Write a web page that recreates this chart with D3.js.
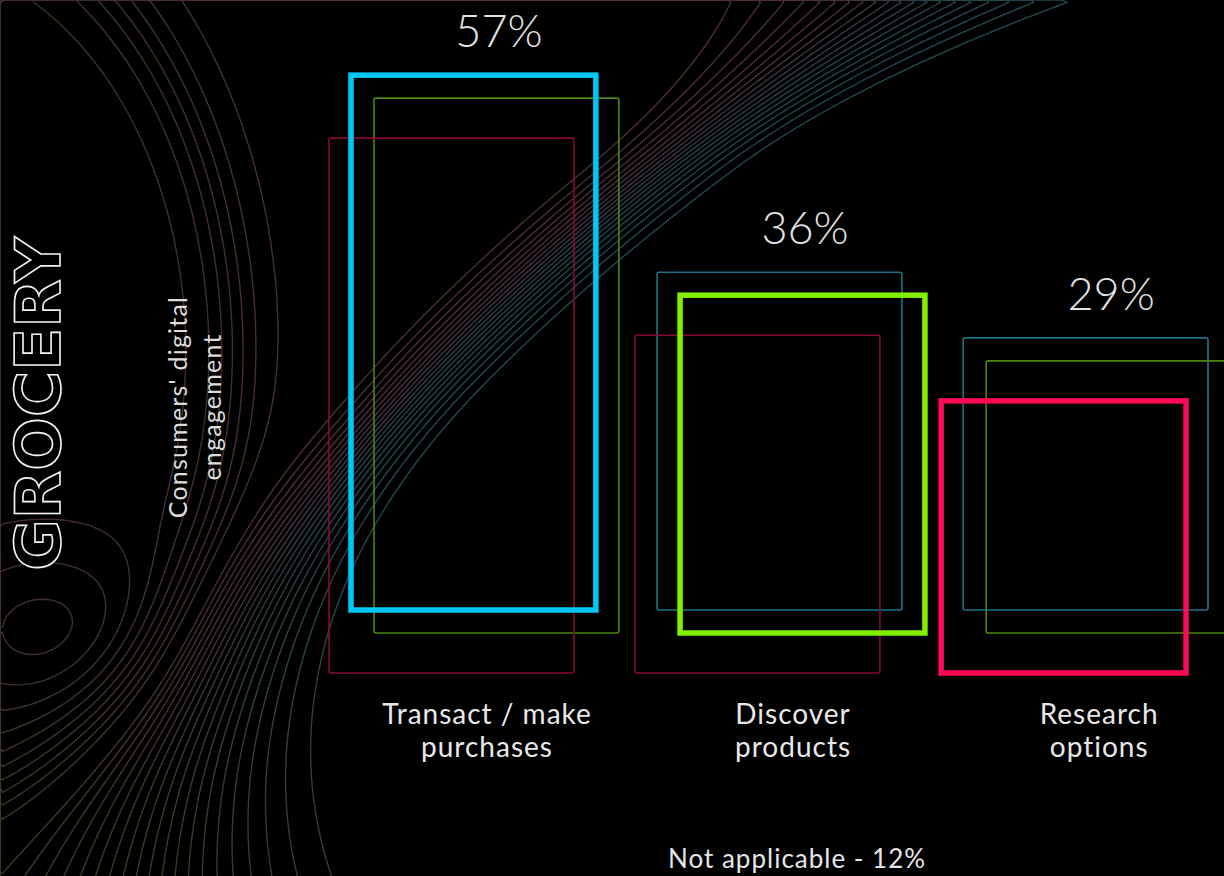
<!DOCTYPE html>
<html>
<head>
<meta charset="utf-8">
<script src="https://cdn.jsdelivr.net/npm/d3@7"></script>
<style>
  html, body { margin: 0; padding: 0; background: #000; }
  svg { display: block; }
</style>
</head>
<body>
<svg id="chart" width="1224" height="876"></svg>
<script>
// ---- chart data ----
const categories = ["Transact / make purchases", "Discover products", "Research options"];
const categoryLines = [["Transact / make", "purchases"], ["Discover", "products"], ["Research", "options"]];
const values = [57, 36, 29];
const valueLabels = ["57%", "36%", "29%"];
const sectorTitle = "GROCERY";
const axisTitleLines = ["Consumers' digital", "engagement"];
const footNote = "Not applicable - 12%";

// ---- styling / layout ----
const W = 1224, H = 876;
const bodyFont = "Lato, 'Open Sans', 'DejaVu Sans', sans-serif";
// three stacked outline frames per category; the frame whose index matches the category is emphasised
const frameLayers = [
  { bold: "#00c8f6", faint: "#1b7388", dx: 0,   base: 610 },
  { bold: "#80f000", faint: "#4b8612", dx: 23,  base: 633 },
  { bold: "#ff0a57", faint: "#870a36", dx: -22, base: 673 }
];

const svg = d3.select("#chart");
svg.append("rect").attr("width", W).attr("height", H).attr("fill", "#000");
const defs = svg.append("defs");

// ---- decorative terrain contours in the background ----
const cell = 5;
const nx = Math.ceil(W / cell) + 1, ny = Math.ceil(H / cell) + 1;
function terrain(x, y) {
  // escarpment running from the lower left to the upper right along a bent spine
  const xc = 890 - 1.545 * y + 0.0008 * y * y;
  const slope = -1.545 + 0.0016 * y;
  const d = (x - xc) / Math.sqrt(1 + slope * slope);
  const top = Math.max(0, (170 - y) / 170), bot = Math.max(0, (y - 380) / 496);
  const w = 40 + 40 * top * top + 110 * bot * bot;
  const cliff = 14 * (1 - Math.tanh(d / w)) / 2;
  // plateau rim off the left edge
  const r = Math.hypot((x + 100) / 330, (y - 350) / 460);
  const rim = 5.6 * (1 - Math.tanh((r - 1) / 0.11)) / 2;
  // small knoll low on the left
  const kx = (x - 45) / 80, ky = (y - 630) / 60;
  const knoll = 2.4 * Math.exp(-(kx * kx + ky * ky) / 2);
  return cliff + rim + knoll;
}
const grid = new Array(nx * ny);
for (let j = 0; j < ny; j++) for (let i = 0; i < nx; i++) grid[j * nx + i] = terrain(i * cell, j * cell);
const levels = d3.range(1.2, 12.9, 0.6).concat(d3.range(14.4, 22, 0.8));
const contours = d3.contours().size([nx, ny]).thresholds(levels)(grid);

// ink per contour level, turning olive towards the bottom of the page
const levelInk = d3.scaleLinear()
  .domain([0, 5, 10, 14, 22])
  .range(["#1b4a50", "#26444b", "#502c3b", "#46302f", "#402b2d"]);
contours.forEach((c, i) => {
  const gr = defs.append("linearGradient").attr("id", "ink" + i)
    .attr("gradientUnits", "userSpaceOnUse")
    .attr("x1", 0).attr("y1", 520).attr("x2", 0).attr("y2", 876);
  gr.append("stop").attr("offset", 0).attr("stop-color", levelInk(c.value));
  gr.append("stop").attr("offset", 1).attr("stop-color", "#3b3a25");
});

const contourPath = d3.geoPath(d3.geoIdentity().scale(cell));
svg.append("g").attr("class", "terrain")
  .selectAll("path").data(contours).join("path")
  .attr("d", contourPath)
  .attr("fill", "none")
  .attr("stroke", (c, i) => `url(#ink${i})`)
  .attr("stroke-width", 1.4);

// ---- scales ----
const x = d3.scaleBand().domain(categories).range([351, 1208]).paddingInner(0.2).paddingOuter(0);
const h = d3.scaleLinear().domain([0, 60]).range([0, 563]);

// ---- frames ----
const groups = svg.append("g").selectAll("g").data(categories).join("g");
groups.each(function (cat, ci) {
  const g = d3.select(this);
  const order = frameLayers.map((l, li) => li).sort((a, b) => (a === ci) - (b === ci));
  order.forEach(li => {
    const L = frameLayers[li];
    const isBold = li === ci;
    g.append("rect")
      .attr("x", x(cat) + L.dx)
      .attr("y", L.base - h(values[ci]))
      .attr("width", x.bandwidth())
      .attr("height", h(values[ci]))
      .attr("rx", isBold ? 0 : 2)
      .attr("fill", "none")
      .attr("stroke", isBold ? L.bold : L.faint)
      .attr("stroke-width", isBold ? 5.5 : 1.6);
  });
  // value label above the top-most frame
  const topY = d3.min(frameLayers, L => L.base - h(values[ci]));
  g.append("text")
    .attr("x", x(cat) + 148)
    .attr("y", topY - 28)
    .attr("text-anchor", "middle")
    .style("font-family", bodyFont)
    .style("font-weight", 300)
    .style("font-size", "45px")
    .attr("fill", "#e2e2e2")
    .text(valueLabels[ci]);
  // category label beneath
  const t = g.append("text")
    .attr("x", x(cat) + 136)
    .attr("y", 724)
    .attr("text-anchor", "middle")
    .style("font-family", bodyFont)
    .style("font-size", "28px")
    .style("letter-spacing", "1px")
    .attr("fill", "#e8e8e8");
  categoryLines[ci].forEach((line, k) => {
    t.append("tspan").attr("x", x(cat) + 136).attr("dy", k === 0 ? 0 : 33).text(line);
  });
});

// ---- vertical titles ----
svg.append("text")
  .attr("transform", "translate(60,404) rotate(-90)")
  .attr("text-anchor", "middle")
  .style("font-family", "'DejaVu Sans', sans-serif")
  .style("font-weight", "bold")
  .style("font-size", "63px")
  .attr("fill", "#000")
  .attr("stroke", "#f2f2f2")
  .attr("stroke-width", 1.6)
  .text(sectorTitle);

const axisTitle = svg.append("text")
  .attr("transform", "translate(187,407) rotate(-90)")
  .attr("text-anchor", "middle")
  .style("font-family", bodyFont)
  .style("font-size", "25px")
  .style("letter-spacing", "1.2px")
  .attr("fill", "#dcdcdc");
axisTitleLines.forEach((line, k) => {
  axisTitle.append("tspan").attr("x", 0).attr("dy", k === 0 ? 0 : 34).text(line);
});

// ---- footnote ----
svg.append("text")
  .attr("x", x(categories[1]) + 140)
  .attr("y", 868)
  .attr("text-anchor", "middle")
  .style("font-family", bodyFont)
  .style("font-size", "26px")
  .style("letter-spacing", "1px")
  .attr("fill", "#e6e6e6")
  .text(footNote);
</script>
</body>
</html>
